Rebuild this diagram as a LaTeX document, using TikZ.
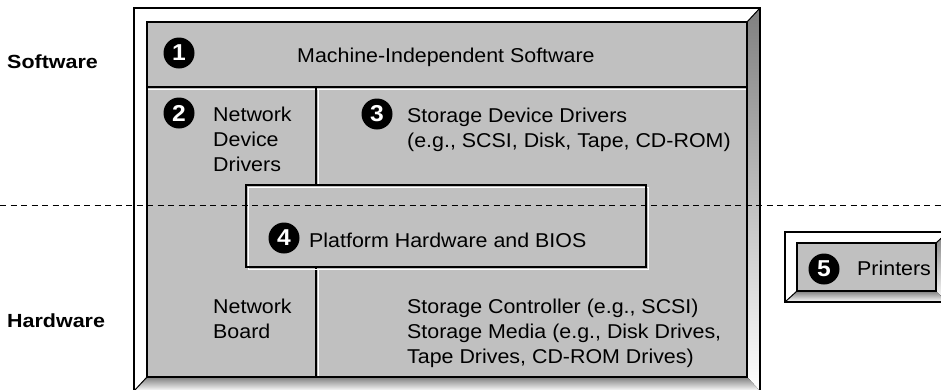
\documentclass[tikz,border=0pt]{standalone}
\usepackage{fontspec}
\setmainfont{Liberation Sans}[FakeStretch=1.07]
\newfontfamily\sidefont{Liberation Sans}[FakeStretch=1.13]
\definecolor{panel}{HTML}{C0C0C0}
\definecolor{shade}{HTML}{808080}
\tikzset{
  frame/.style={draw=black, line width=1.5pt},
  hl/.style={draw=white, line width=1.5pt},
  edge/.style={draw=black, line width=1pt},
  lbl/.style={font=\fontsize{20}{25}\selectfont, inner sep=0pt, anchor=base west, align=left},
  side/.style={font=\sidefont\bfseries\fontsize{19}{22}\selectfont, inner sep=0pt, anchor=base west},
  num/.style={circle, fill=black, text=white, font=\bfseries\fontsize{23}{23}\selectfont, minimum size=31pt, inner sep=0pt},
  sep/.style={draw=black, line width=1pt, dash pattern=on 6pt off 4.5pt}
}
\begin{document}
\begin{tikzpicture}[x=1pt,y=-1pt,line join=miter]
\useasboundingbox (0,0) rectangle (941,389);
\clip (0,0) rectangle (941,389);
% ---- main frame bevels
\fill[white] (134,8) -- (760,8) -- (747,22) -- (147,22) -- cycle;
\fill[white] (134,8) -- (147,22) -- (147,377) -- (134,391) -- cycle;
\fill[shade] (760,8) -- (760,391) -- (747,377) -- (747,22) -- cycle;
\fill[shade] (134,391) -- (760,391) -- (747,377) -- (147,377) -- cycle;
\draw[edge] (760,8) -- (747,22);
\draw[edge] (134,391) -- (147,377);
\draw[frame] (134,8) rectangle (760,391);
% ---- panel
\fill[panel] (147,22) rectangle (747,377);
\draw[hl] (147,89.5) -- (746,89.5);
\draw[frame] (147,87) -- (747,87);
\draw[hl] (318.5,90) -- (318.5,185);
\draw[frame] (316,88) -- (316,185);
\draw[hl] (318.5,269.5) -- (318.5,376);
\draw[frame] (316,268) -- (316,377);
\draw[frame] (147,22) rectangle (747,377);
% ---- platform box
\fill[panel] (246,185) rectangle (646,267);
\draw[hl] (248.5,187.5) rectangle (648.5,269.5);
\draw[frame] (246,185) rectangle (646,267);
% ---- printers box
\fill[white] (785,232) -- (948,232) -- (936,243) -- (797,243) -- cycle;
\fill[white] (785,232) -- (797,243) -- (797,291) -- (785,302) -- cycle;
\fill[shade] (785,302) -- (948,302) -- (936,291) -- (797,291) -- cycle;
\fill[shade] (948,232) -- (948,302) -- (936,291) -- (936,243) -- cycle;
\draw[edge] (785,302) -- (797,291);
\draw[edge] (948,232) -- (936,243);
\draw[frame] (785,232) rectangle (948,302);
\filldraw[fill=panel, frame] (797,243) rectangle (936,291);
% ---- side labels
\node[side] (sw) at (7,68) {Software};
\node[side] (hw) at (7,327) {Hardware};
% ---- numbered markers
\node[num] (n1) at (179,53) {1};
\node[num] (n2) at (179,113) {2};
\node[num] (n3) at (377,114) {3};
\node[num] (n4) at (284,238) {4};
\node[num] (n5) at (824,269) {5};
% ---- texts (base anchor = baseline of last line)
\node[lbl] (mis) at (297,62) {Machine-Independent Software};
\node[lbl] (ndd) at (213,171) {Network\\Device\\Drivers};
\node[lbl] (sdd) at (407,147) {Storage Device Drivers\\(e.g., SCSI, Disk, Tape, CD-ROM)};
\node[lbl] (phb) at (309,247) {Platform Hardware and BIOS};
\node[lbl] (nb) at (213,338) {Network\\Board};
\node[lbl] (scm) at (407,363) {Storage Controller (e.g., SCSI)\\Storage Media (e.g., Disk Drives,\\Tape Drives, CD-ROM Drives)};
\node[lbl] (prn) at (857,275) {Printers};
% ---- software / hardware boundary
\coordinate (dl) at (0,205);
\coordinate (dr) at (941,205);
\draw[sep] (dl) -- (dr);
\end{tikzpicture}
\end{document}
